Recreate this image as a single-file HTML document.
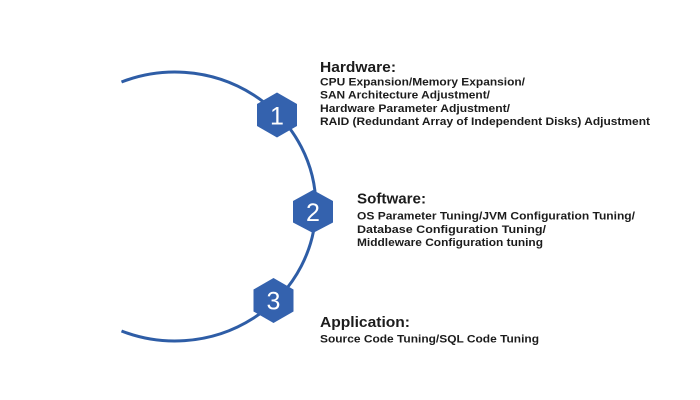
<!DOCTYPE html>
<html>
<head>
<meta charset="utf-8">
<style>
  html, body { margin: 0; padding: 0; background: #ffffff; }
  svg { display: block; }
  text { font-family: "Liberation Sans", Arial, sans-serif; fill: #1c1c1c; }
  .t { font-size: 15px; font-weight: bold; }
  .b { font-size: 11px; font-weight: bold; }
  .n { font-size: 25px; fill: #ffffff; font-weight: normal; }
</style>
</head>
<body>
<svg width="700" height="400" viewBox="0 0 700 400" xmlns="http://www.w3.org/2000/svg">
  <rect width="700" height="400" fill="#ffffff"/>
  <!-- arc -->
  <path d="M121.5,82 A141,134.5 0 1 1 121.5,331" fill="none" stroke="#2e5da6" stroke-width="3"/>

  <!-- hexagon 1 -->
  <polygon points="277,92.5 297,104 297,126 277,137.5 257,126 257,104" fill="#3462ae"/>
  <text class="n" x="277" y="124.5" text-anchor="middle">1</text>

  <!-- hexagon 2 -->
  <polygon points="313,190 333,201 333,222.5 313,233 293,222.5 293,201" fill="#3462ae"/>
  <text class="n" x="313" y="221" text-anchor="middle">2</text>

  <!-- hexagon 3 -->
  <polygon points="273.5,278 293.5,289.5 293.5,311.5 273.5,323 253.5,311.5 253.5,289.5" fill="#3462ae"/>
  <text class="n" x="273.5" y="309.5" text-anchor="middle">3</text>

  <!-- Hardware -->
  <text class="t" x="320" y="72" textLength="76" lengthAdjust="spacingAndGlyphs">Hardware:</text>
  <text class="b" x="320" y="85.5" textLength="205" lengthAdjust="spacingAndGlyphs">CPU Expansion/Memory Expansion/</text>
  <text class="b" x="320" y="98.7" textLength="170" lengthAdjust="spacingAndGlyphs">SAN Architecture Adjustment/</text>
  <text class="b" x="320" y="111.8" textLength="190" lengthAdjust="spacingAndGlyphs">Hardware Parameter Adjustment/</text>
  <text class="b" x="320" y="125" textLength="330" lengthAdjust="spacingAndGlyphs">RAID (Redundant Array of Independent Disks) Adjustment</text>

  <!-- Software -->
  <text class="t" x="357" y="203.5" textLength="69" lengthAdjust="spacingAndGlyphs">Software:</text>
  <text class="b" x="357" y="219.5" textLength="278" lengthAdjust="spacingAndGlyphs">OS Parameter Tuning/JVM Configuration Tuning/</text>
  <text class="b" x="357" y="232.8" textLength="189" lengthAdjust="spacingAndGlyphs">Database Configuration Tuning/</text>
  <text class="b" x="357" y="246" textLength="186" lengthAdjust="spacingAndGlyphs">Middleware Configuration tuning</text>

  <!-- Application -->
  <text class="t" x="320" y="327" textLength="90" lengthAdjust="spacingAndGlyphs">Application:</text>
  <text class="b" x="320" y="342.3" textLength="219" lengthAdjust="spacingAndGlyphs">Source Code Tuning/SQL Code Tuning</text>
</svg>
</body>
</html>
